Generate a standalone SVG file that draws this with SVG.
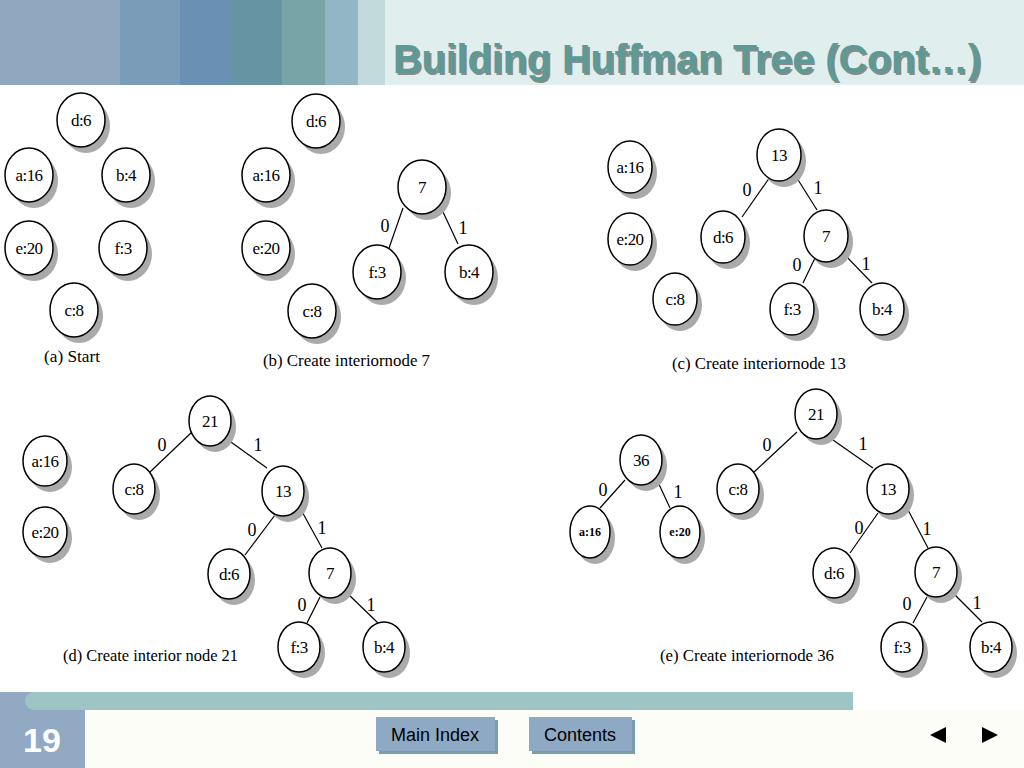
<svg xmlns="http://www.w3.org/2000/svg" width="1024" height="768" viewBox="0 0 1024 768">
<defs>
<style>
.sh{fill:#aaaaaa}
.nd{fill:#fff;stroke:#000;stroke-width:1.5}
.lb{font-family:"Liberation Serif",serif;font-size:17px;letter-spacing:-0.6px;text-anchor:middle;fill:#000}
.sm{font-family:"Liberation Serif",serif;font-size:12px;font-weight:bold;text-anchor:middle;fill:#000}
.el{font-family:"Liberation Serif",serif;font-size:18px;text-anchor:middle;fill:#000}
.cap{font-family:"Liberation Serif",serif;font-size:17px;fill:#000}
.ed{stroke:#000;stroke-width:1.2;fill:none}
.btn{fill:#8ea9c4}
.bsh{fill:#7b9ea6}
.bt{font-family:"Liberation Sans",Arial,sans-serif;font-size:18px;text-anchor:middle;fill:#000}
</style>
</defs>
<rect x="0" y="0" width="1024" height="768" fill="#ffffff"/>
<!-- header -->
<g id="header">
<rect x="0" y="0" width="120" height="85" fill="#8fa8c0"/>
<rect x="120" y="0" width="60" height="85" fill="#7b9cb8"/>
<rect x="180" y="0" width="52" height="85" fill="#6a90b4"/>
<rect x="232" y="0" width="50" height="85" fill="#6694a2"/>
<rect x="282" y="0" width="43" height="85" fill="#78a4a8"/>
<rect x="325" y="0" width="33" height="85" fill="#93b6c4"/>
<rect x="358" y="0" width="27" height="85" fill="#c2dadb"/>
<rect x="385" y="0" width="639" height="85" fill="#e1eeee"/>
<text x="395" y="75" font-family="Liberation Sans,Arial,sans-serif" font-size="40" font-weight="bold" fill="#8a8a8a" textLength="588" lengthAdjust="spacingAndGlyphs">Building Huffman Tree (Cont…)</text>
<text x="393" y="73" font-family="Liberation Sans,Arial,sans-serif" font-size="40" font-weight="bold" fill="#5e9a95" textLength="588" lengthAdjust="spacingAndGlyphs">Building Huffman Tree (Cont…)</text>
</g>
<!-- footer -->
<g id="footer">
<rect x="0" y="710" width="1024" height="58" fill="#fcfdf7"/>
<rect x="0" y="692" width="85" height="76" fill="#91a9c3"/>
<rect x="25" y="692" width="828" height="18" rx="9" ry="9" fill="#9ec4c4"/>
<rect x="40" y="692" width="813" height="18" fill="#9ec4c4"/>
<text x="42" y="752" font-family="Liberation Sans,Arial,sans-serif" font-size="34" font-weight="bold" fill="#ffffff" text-anchor="middle">19</text>
</g>
<g id="btn-main-index">
<rect class="bsh" x="379" y="720" width="119" height="34"/>
<rect class="btn" x="376" y="717" width="119" height="34"/>
<text class="bt" x="435" y="741">Main Index</text>
</g>
<g id="btn-contents">
<rect class="bsh" x="532" y="720" width="103" height="34"/>
<rect class="btn" x="529" y="717" width="103" height="34"/>
<text class="bt" x="580" y="741">Contents</text>
</g>
<g id="nav-prev"><polygon points="930,735 946,727 946,743" fill="#000"/></g>
<g id="nav-next"><polygon points="998,735 982,727 982,743" fill="#000"/></g>

<!-- connectors -->
<g id="connectors">
<line class="ed" x1="403" y1="208" x2="389" y2="248"/>
<line class="ed" x1="443" y1="212" x2="458" y2="244"/>

<line class="ed" x1="770" y1="177" x2="742" y2="217"/>
<line class="ed" x1="795" y1="175" x2="817" y2="210"/>
<line class="ed" x1="815" y1="258" x2="803" y2="283"/>
<line class="ed" x1="843" y1="253" x2="872" y2="283"/>

<line class="ed" x1="192" y1="432" x2="150" y2="472"/>
<line class="ed" x1="228" y1="440" x2="267" y2="468"/>
<line class="ed" x1="275" y1="515" x2="245" y2="555"/>
<line class="ed" x1="300" y1="508" x2="322" y2="548"/>
<line class="ed" x1="320" y1="597" x2="307" y2="623"/>
<line class="ed" x1="348" y1="594" x2="378" y2="623"/>

<line class="ed" x1="625" y1="480" x2="600" y2="508"/>
<line class="ed" x1="657" y1="480" x2="670" y2="508"/>
<line class="ed" x1="797" y1="432" x2="753" y2="473"/>
<line class="ed" x1="833" y1="440" x2="873" y2="468"/>
<line class="ed" x1="878" y1="513" x2="850" y2="553"/>
<line class="ed" x1="907" y1="508" x2="928" y2="548"/>
<line class="ed" x1="927" y1="597" x2="913" y2="623"/>
<line class="ed" x1="953" y1="593" x2="982" y2="622"/>
</g>

<!-- edge labels -->
<g id="edge-labels">
<text class="el" x="385" y="232">0</text>
<text class="el" x="463" y="234">1</text>
<text class="el" x="747" y="196">0</text>
<text class="el" x="818" y="194">1</text>
<text class="el" x="797" y="271">0</text>
<text class="el" x="866" y="270">1</text>
<text class="el" x="162" y="451">0</text>
<text class="el" x="258" y="451">1</text>
<text class="el" x="252" y="536">0</text>
<text class="el" x="322" y="534">1</text>
<text class="el" x="302" y="611">0</text>
<text class="el" x="371" y="611">1</text>
<text class="el" x="603" y="496">0</text>
<text class="el" x="678" y="498">1</text>
<text class="el" x="767" y="451">0</text>
<text class="el" x="863" y="450">1</text>
<text class="el" x="859" y="534">0</text>
<text class="el" x="927" y="535">1</text>
<text class="el" x="907" y="610">0</text>
<text class="el" x="977" y="609">1</text>
</g>

<!-- panel a -->
<g id="a-d6"><ellipse class="sh" cx="86" cy="126" rx="24" ry="27"/><ellipse class="nd" cx="81" cy="120" rx="24" ry="27"/><text class="lb" x="81" y="126">d:6</text></g>
<g id="a-a16"><ellipse class="sh" cx="34" cy="181" rx="24" ry="27"/><ellipse class="nd" cx="29" cy="175" rx="24" ry="27"/><text class="lb" x="29" y="181">a:16</text></g>
<g id="a-b4"><ellipse class="sh" cx="131" cy="181" rx="24" ry="27"/><ellipse class="nd" cx="126" cy="175" rx="24" ry="27"/><text class="lb" x="126" y="181">b:4</text></g>
<g id="a-e20"><ellipse class="sh" cx="34" cy="254" rx="24" ry="27"/><ellipse class="nd" cx="29" cy="248" rx="24" ry="27"/><text class="lb" x="29" y="254">e:20</text></g>
<g id="a-f3"><ellipse class="sh" cx="128" cy="254" rx="24" ry="27"/><ellipse class="nd" cx="123" cy="248" rx="24" ry="27"/><text class="lb" x="123" y="254">f:3</text></g>
<g id="a-c8"><ellipse class="sh" cx="79" cy="316" rx="24" ry="27"/><ellipse class="nd" cx="74" cy="310" rx="24" ry="27"/><text class="lb" x="74" y="316">c:8</text></g>
<text class="cap" x="44" y="362" textLength="56" lengthAdjust="spacingAndGlyphs">(a) Start</text>

<!-- panel b -->
<g id="b-d6"><ellipse class="sh" cx="321" cy="127" rx="24" ry="27"/><ellipse class="nd" cx="316" cy="121" rx="24" ry="27"/><text class="lb" x="316" y="127">d:6</text></g>
<g id="b-a16"><ellipse class="sh" cx="271" cy="181" rx="24" ry="27"/><ellipse class="nd" cx="266" cy="175" rx="24" ry="27"/><text class="lb" x="266" y="181">a:16</text></g>
<g id="b-e20"><ellipse class="sh" cx="271" cy="254" rx="24" ry="27"/><ellipse class="nd" cx="266" cy="248" rx="24" ry="27"/><text class="lb" x="266" y="254">e:20</text></g>
<g id="b-c8"><ellipse class="sh" cx="317" cy="317" rx="24" ry="27"/><ellipse class="nd" cx="312" cy="311" rx="24" ry="27"/><text class="lb" x="312" y="317">c:8</text></g>
<g id="b-7"><ellipse class="sh" cx="427" cy="193" rx="24" ry="27"/><ellipse class="nd" cx="422" cy="187" rx="24" ry="27"/><text class="lb" x="422" y="193">7</text></g>
<g id="b-f3"><ellipse class="sh" cx="382" cy="278" rx="24" ry="27"/><ellipse class="nd" cx="377" cy="272" rx="24" ry="27"/><text class="lb" x="377" y="278">f:3</text></g>
<g id="b-b4"><ellipse class="sh" cx="474" cy="278" rx="24" ry="27"/><ellipse class="nd" cx="469" cy="272" rx="24" ry="27"/><text class="lb" x="469" y="278">b:4</text></g>
<text class="cap" x="263" y="366" textLength="167" lengthAdjust="spacingAndGlyphs">(b) Create interiornode 7</text>

<!-- panel c -->
<g id="c-a16"><ellipse class="sh" cx="635" cy="173" rx="22" ry="26"/><ellipse class="nd" cx="630" cy="167" rx="22" ry="26"/><text class="lb" x="630" y="173">a:16</text></g>
<g id="c-e20"><ellipse class="sh" cx="635" cy="245" rx="22" ry="26"/><ellipse class="nd" cx="630" cy="239" rx="22" ry="26"/><text class="lb" x="630" y="245">e:20</text></g>
<g id="c-c8"><ellipse class="sh" cx="680" cy="305" rx="22" ry="26"/><ellipse class="nd" cx="675" cy="299" rx="22" ry="26"/><text class="lb" x="675" y="305">c:8</text></g>
<g id="c-13"><ellipse class="sh" cx="784" cy="161" rx="22" ry="26"/><ellipse class="nd" cx="779" cy="155" rx="22" ry="26"/><text class="lb" x="779" y="161">13</text></g>
<g id="c-d6"><ellipse class="sh" cx="728" cy="243" rx="22" ry="26"/><ellipse class="nd" cx="723" cy="237" rx="22" ry="26"/><text class="lb" x="723" y="243">d:6</text></g>
<g id="c-7"><ellipse class="sh" cx="831" cy="242" rx="22" ry="26"/><ellipse class="nd" cx="826" cy="236" rx="22" ry="26"/><text class="lb" x="826" y="242">7</text></g>
<g id="c-f3"><ellipse class="sh" cx="797" cy="315" rx="22" ry="26"/><ellipse class="nd" cx="792" cy="309" rx="22" ry="26"/><text class="lb" x="792" y="315">f:3</text></g>
<g id="c-b4"><ellipse class="sh" cx="887" cy="315" rx="22" ry="26"/><ellipse class="nd" cx="882" cy="309" rx="22" ry="26"/><text class="lb" x="882" y="315">b:4</text></g>
<text class="cap" x="672" y="369" textLength="174" lengthAdjust="spacingAndGlyphs">(c) Create interiornode 13</text>

<!-- panel d -->
<g id="d-a16"><ellipse class="sh" cx="50" cy="467" rx="22" ry="25"/><ellipse class="nd" cx="45" cy="461" rx="22" ry="25"/><text class="lb" x="45" y="467">a:16</text></g>
<g id="d-e20"><ellipse class="sh" cx="50" cy="538" rx="22" ry="25"/><ellipse class="nd" cx="45" cy="532" rx="22" ry="25"/><text class="lb" x="45" y="538">e:20</text></g>
<g id="d-21"><ellipse class="sh" cx="215" cy="427" rx="21" ry="25"/><ellipse class="nd" cx="210" cy="421" rx="21" ry="25"/><text class="lb" x="210" y="427">21</text></g>
<g id="d-c8"><ellipse class="sh" cx="139" cy="495" rx="21" ry="25"/><ellipse class="nd" cx="134" cy="489" rx="21" ry="25"/><text class="lb" x="134" y="495">c:8</text></g>
<g id="d-13"><ellipse class="sh" cx="288" cy="497" rx="21" ry="25"/><ellipse class="nd" cx="283" cy="491" rx="21" ry="25"/><text class="lb" x="283" y="497">13</text></g>
<g id="d-d6"><ellipse class="sh" cx="234" cy="580" rx="21" ry="25"/><ellipse class="nd" cx="229" cy="574" rx="21" ry="25"/><text class="lb" x="229" y="580">d:6</text></g>
<g id="d-7"><ellipse class="sh" cx="335" cy="579" rx="21" ry="25"/><ellipse class="nd" cx="330" cy="573" rx="21" ry="25"/><text class="lb" x="330" y="579">7</text></g>
<g id="d-f3"><ellipse class="sh" cx="304" cy="653" rx="21" ry="25"/><ellipse class="nd" cx="299" cy="647" rx="21" ry="25"/><text class="lb" x="299" y="653">f:3</text></g>
<g id="d-b4"><ellipse class="sh" cx="389" cy="653" rx="21" ry="25"/><ellipse class="nd" cx="384" cy="647" rx="21" ry="25"/><text class="lb" x="384" y="653">b:4</text></g>
<text class="cap" x="63" y="661" textLength="175" lengthAdjust="spacingAndGlyphs">(d) Create interior node 21</text>

<!-- panel e -->
<g id="e-36"><ellipse class="sh" cx="646" cy="466" rx="21" ry="25"/><ellipse class="nd" cx="641" cy="460" rx="21" ry="25"/><text class="lb" x="641" y="466">36</text></g>
<g id="e-a16"><ellipse class="sh" cx="595" cy="538" rx="20" ry="26"/><ellipse class="nd" cx="590" cy="532" rx="20" ry="26"/><text class="sm" x="590" y="536">a:16</text></g>
<g id="e-e20"><ellipse class="sh" cx="685" cy="538" rx="20" ry="26"/><ellipse class="nd" cx="680" cy="532" rx="20" ry="26"/><text class="sm" x="680" y="536">e:20</text></g>
<g id="e-21"><ellipse class="sh" cx="821" cy="420" rx="21" ry="25"/><ellipse class="nd" cx="816" cy="414" rx="21" ry="25"/><text class="lb" x="816" y="420">21</text></g>
<g id="e-c8"><ellipse class="sh" cx="743" cy="495" rx="21" ry="25"/><ellipse class="nd" cx="738" cy="489" rx="21" ry="25"/><text class="lb" x="738" y="495">c:8</text></g>
<g id="e-13"><ellipse class="sh" cx="893" cy="495" rx="21" ry="25"/><ellipse class="nd" cx="888" cy="489" rx="21" ry="25"/><text class="lb" x="888" y="495">13</text></g>
<g id="e-d6"><ellipse class="sh" cx="839" cy="579" rx="21" ry="25"/><ellipse class="nd" cx="834" cy="573" rx="21" ry="25"/><text class="lb" x="834" y="579">d:6</text></g>
<g id="e-7"><ellipse class="sh" cx="941" cy="578" rx="21" ry="25"/><ellipse class="nd" cx="936" cy="572" rx="21" ry="25"/><text class="lb" x="936" y="578">7</text></g>
<g id="e-f3"><ellipse class="sh" cx="907" cy="653" rx="21" ry="25"/><ellipse class="nd" cx="902" cy="647" rx="21" ry="25"/><text class="lb" x="902" y="653">f:3</text></g>
<g id="e-b4"><ellipse class="sh" cx="996" cy="653" rx="21" ry="25"/><ellipse class="nd" cx="991" cy="647" rx="21" ry="25"/><text class="lb" x="991" y="653">b:4</text></g>
<text class="cap" x="660" y="661" textLength="174" lengthAdjust="spacingAndGlyphs">(e) Create interiornode 36</text>
</svg>
